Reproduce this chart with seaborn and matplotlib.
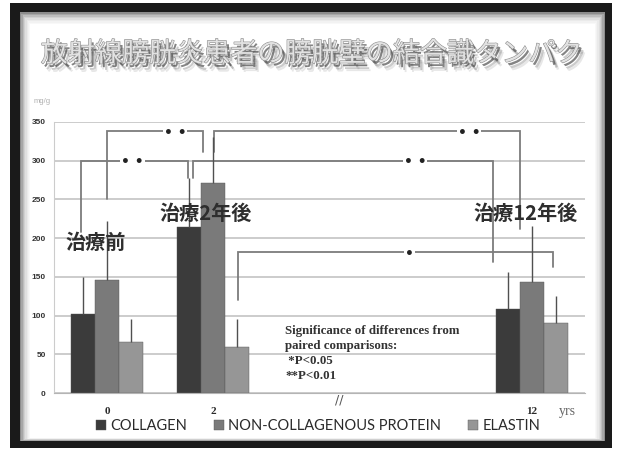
import numpy as np
import pandas as pd
import matplotlib
matplotlib.use("Agg")
import matplotlib.pyplot as plt
import matplotlib.patheffects as pe
from matplotlib.patches import Rectangle
import seaborn as sns

# values (mg/g)
years = ["0", "2", "12"]
components = ["COLLAGEN", "NON-COLLAGENOUS PROTEIN", "ELASTIN"]
collagen = [102, 214, 109]
collagen_sd = [48, 64, 47]
noncollagen = [146, 271, 143]
noncollagen_sd = [76, 60, 73]
elastin = [66, 60, 90]
elastin_sd = [30, 35, 35]
stage_labels = ["治療前", "治療2年後", "治療12年後"]
y_ticks = [0, 50, 100, 150, 200, 250, 300, 350]

# x slots: 0, 2, (gap), (gap), 12
order = ["0", "2", "_a", "_b", "12"]
tick_labels = ["0", "2", "", "", "12"]

df = pd.DataFrame({
    "year": years * 3,
    "component": np.repeat(components, 3),
    "value": collagen + noncollagen + elastin,
})

W, H = 620, 454
def fx(px):
    return px / W
def fy(py):
    return 1 - py / H

def box(x0, y0, x1, y1, color, z):
    fig.add_artist(Rectangle((fx(x0), fy(y1)), fx(x1) - fx(x0), fy(y0) - fy(y1),
                             transform=fig.transFigure, color=color, lw=0, zorder=z))

sns.set_style("white")
plt.rcParams['font.family'] = ['Noto Sans CJK JP', 'DejaVu Sans']
jp = ['Noto Sans CJK JP', 'DejaVu Sans']

fig = plt.figure(figsize=(6.2, 4.54), dpi=100)
fig.patch.set_facecolor("white")

# photographed slide frame, black border with a soft inner shadow
box(10, 3, 612, 448, "#1a1a1a", -30)
shades = ["#8c8c8c", "#a6a6a6", "#bdbdbd", "#d0d0d0", "#dfdfdf", "#eaeaea",
          "#f2f2f2", "#f8f8f8", "white"]
for i, c in enumerate(shades):
    box(20 + 1.3 * i, 12 + 1.5 * i, 605 - 1.3 * i, 441 - 0.4 * i, c, -29 + i)

ax = fig.add_axes([fx(54), fy(393), fx(585) - fx(54), fy(122) - fy(393)])
ax.set_facecolor("none")

colors = ["#3b3b3b", "#7a7a7a", "#969696"]
sns.barplot(data=df, x="year", y="value", hue="component", order=order,
            hue_order=components, palette=colors, saturation=1, width=0.68,
            gap=0, errorbar=None, edgecolor="#555555", linewidth=0.3, ax=ax)

# one-sided SD lines
for cont, sd in zip(ax.containers, [collagen_sd, noncollagen_sd, elastin_sd]):
    bars = sorted(cont, key=lambda b: b.get_x())
    for b, s in zip(bars, sd):
        xc = b.get_x() + b.get_width() / 2
        top = b.get_height()
        ax.vlines(xc, top, top + s, color="#505050", lw=1.0, zorder=4)

# significance brackets: x left, y left, x right, y right, y top, mark, mark x
brackets = [
    (0.0, 250, 0.903, 311, 338, "• •", 0.64),
    (1.007, 311, 3.888, 212, 338, "• •", 3.41),
    (-0.246, 208, 0.762, 278, 300, "• •", 0.24),
    (0.809, 278, 3.634, 169, 300, "• •", 2.90),
    (1.233, 120, 4.199, 163, 182, "•", 2.85),
]
for x0, y0, x1, y1, yt, mark, xm in brackets:
    ax.plot([x0, x0, x1, x1], [y0, yt, yt, y1], color="#7c7c7c", lw=1.3,
            solid_joinstyle="miter", zorder=3)
    ax.text(xm, yt, mark, ha="center", va="center_baseline", fontsize=10,
            color="#222222", fontweight="bold", family="DejaVu Sans", zorder=5,
            bbox=dict(facecolor="white", edgecolor="none", pad=0.6))

stage_pos = [(-0.105, 195), (0.93, 232), (3.94, 232)]
for (sx, sy), lab in zip(stage_pos, stage_labels):
    ax.text(sx, sy, lab, ha="center", va="center", fontsize=14.5,
            fontweight="bold", color="#2e2e2e", family=jp, zorder=6)

ax.set_xlim(-0.5, 4.5)
ax.set_ylim(0, 350)
ax.set_yticks(y_ticks)
ax.set_yticklabels([str(t) for t in y_ticks], fontsize=6, fontweight="bold",
                   color="#333333", family="Liberation Sans")
ax.set_xticks(range(len(order)))
ax.set_xticklabels(tick_labels, fontsize=8, fontweight="bold",
                   color="#2a2a2a", family="Liberation Serif")
ax.set_xticks(np.arange(-0.5, 4.6, 1), minor=True)
ax.tick_params(axis="x", which="major", length=0, pad=10)
ax.tick_params(axis="x", which="minor", length=3, color="#b0b0b0", direction="out")
ax.tick_params(axis="y", length=2, color="#c0c0c0", pad=4)
ax.yaxis.grid(True, color="#c4c4c4", lw=1.2)
ax.set_axisbelow(True)
ax.set_xlabel("")
ax.set_ylabel("")
for side in ["top", "right"]:
    ax.spines[side].set_visible(False)
ax.spines["left"].set_color("#cccccc")
ax.spines["bottom"].set_color("#b4b4b4")

leg = ax.get_legend()
handles = leg.legend_handles
leg.remove()
fig.legend(handles, components, loc="center", bbox_to_anchor=(fx(318), fy(426)),
           ncol=3, frameon=False, prop=dict(family="Lato", size=10.5),
           handlelength=0.7, handleheight=0.7, handletextpad=0.3,
           columnspacing=1.8, labelcolor="#2a2a2a")

# axis break mark, units, note
ax.text(2.19, -1, "//", ha="center", va="top", fontsize=9, color="#555555",
        family="DejaVu Sans", clip_on=False)
fig.text(fx(567), fy(411), "yrs", ha="center", va="center", fontsize=10,
         color="#666666", family="Liberation Serif")
fig.text(fx(42), fy(101), "mg/g", ha="center", va="center", fontsize=5.5,
         color="#b0b0b0", family="Liberation Sans")
fig.text(fx(285), fy(325),
         "Significance of differences from\npaired comparisons:\n *P<0.05\n**P<0.01",
         ha="left", va="top", fontsize=9.3, fontweight="bold", linespacing=1.33,
         color="#333333", family="Liberation Serif")

title = fig.text(fx(312), fy(54), "放射線膀胱炎患者の膀胱壁の結合識タンパク",
                 ha="center", va="center", fontsize=19.5, color="#e2e2e2",
                 family=jp)
title.set_path_effects([
    pe.SimplePatchShadow(offset=(4.5, -6), shadow_rgbFace="#888888", alpha=0.2),
    pe.SimplePatchShadow(offset=(3.5, -4.5), shadow_rgbFace="#555555", alpha=0.3),
    pe.SimplePatchShadow(offset=(2, -2.5), shadow_rgbFace="#333333", alpha=0.6),
    pe.withStroke(linewidth=0.8, foreground="#8a8a8a"),
])

fig.savefig("out.png", dpi=100)
